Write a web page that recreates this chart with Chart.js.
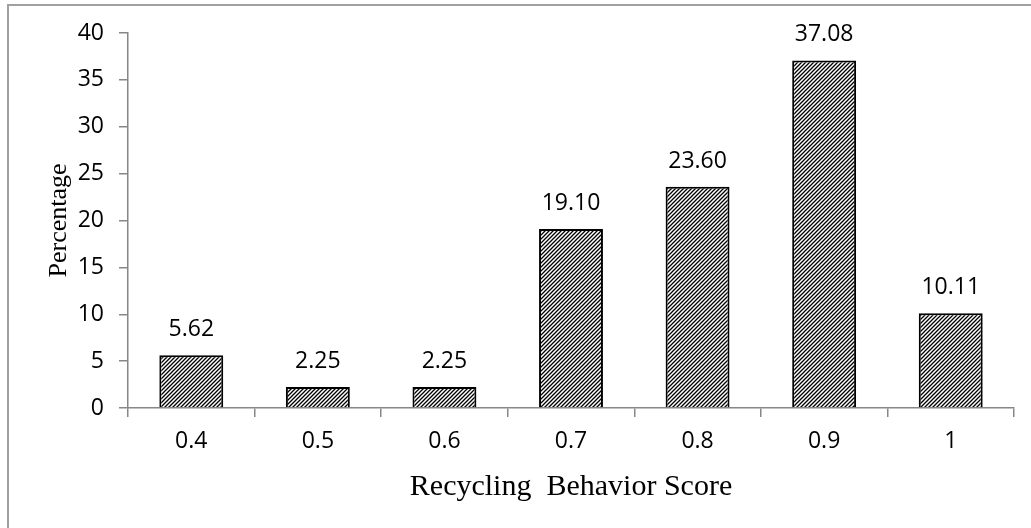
<!DOCTYPE html>
<html>
<head>
<meta charset="utf-8">
<script src="https://cdn.jsdelivr.net/npm/chart.js@4/dist/chart.umd.min.js"></script>
<style>
  html, body { margin: 0; padding: 0; background: #fff; }
  #wrap { position: relative; width: 1031px; height: 528px; }
</style>
</head>
<body>
<div id="wrap"><canvas id="chart" width="1031" height="528"></canvas></div>
<script>
// Share of respondents by recycling behavior score
const scores = ['0.4', '0.5', '0.6', '0.7', '0.8', '0.9', '1'];
const percentages = [5.62, 2.25, 2.25, 19.10, 23.60, 37.08, 10.11];
const yTicks = { min: 0, max: 40, step: 5 };

const AXIS_GRAY = '#878787';
const TICK_FONT = { family: '"Open Sans", "Liberation Sans", sans-serif', size: 23 };

// Diagonal "/" hatch fill for the bars
function makeHatch() {
  const c = document.createElement('canvas');
  c.width = 4; c.height = 4;
  const g = c.getContext('2d');
  g.fillStyle = '#ffffff';
  g.fillRect(0, 0, 4, 4);
  g.strokeStyle = '#000000';
  g.lineWidth = 1.3;
  g.beginPath();
  g.moveTo(0, 4); g.lineTo(4, 0);
  g.moveTo(-1, 1); g.lineTo(1, -1);
  g.moveTo(3, 5); g.lineTo(5, 3);
  g.stroke();
  return g.createPattern(c, 'repeat');
}

// Light frame along the top and left edges
const framePlugin = {
  id: 'frame',
  beforeDraw(chart) {
    const ctx = chart.ctx;
    ctx.save();
    ctx.strokeStyle = '#a0a0a0';
    ctx.lineWidth = 2;
    ctx.beginPath();
    ctx.moveTo(8, chart.height);
    ctx.lineTo(8, 5);
    ctx.lineTo(chart.width, 5);
    ctx.stroke();
    ctx.restore();
  }
};

// Value labels above each bar
const valueLabels = {
  id: 'valueLabels',
  afterDatasetsDraw(chart) {
    const ctx = chart.ctx;
    const meta = chart.getDatasetMeta(0);
    const data = chart.data.datasets[0].data;
    ctx.save();
    ctx.fillStyle = '#000';
    ctx.font = `${TICK_FONT.size}px ${TICK_FONT.family}`;
    ctx.textAlign = 'center';
    ctx.textBaseline = 'alphabetic';
    meta.data.forEach((bar, i) => {
      ctx.fillText(data[i].toFixed(2), bar.x, bar.y - 19);
    });
    ctx.restore();
  }
};

new Chart(document.getElementById('chart'), {
  type: 'bar',
  data: {
    labels: scores,
    datasets: [{
      data: percentages,
      backgroundColor: makeHatch(),
      borderColor: '#000',
      borderWidth: 2,
      borderSkipped: 'start',
      categoryPercentage: 1,
      barPercentage: 0.505
    }]
  },
  options: {
    responsive: false,
    devicePixelRatio: 1,
    animation: false,
    layout: { padding: { left: 8, top: 33, right: 17, bottom: 0 } },
    plugins: {
      legend: { display: false },
      tooltip: { enabled: false }
    },
    scales: {
      x: {
        grid: { drawOnChartArea: false, tickLength: 9, color: AXIS_GRAY, lineWidth: 1.5, offset: true },
        border: { color: AXIS_GRAY, width: 1.5 },
        ticks: { color: '#000', font: TICK_FONT, padding: 11, maxRotation: 0 },
        title: {
          display: true,
          text: 'Recycling  Behavior Score',
          color: '#000',
          font: { family: '"Liberation Serif", "Times New Roman", serif', size: 30 },
          padding: { top: 0, bottom: 23 }
        },
        afterFit(scale) { scale.height = 120; }
      },
      y: {
        min: yTicks.min,
        max: yTicks.max,
        grid: { drawOnChartArea: false, tickLength: 9, color: AXIS_GRAY, lineWidth: 1.5 },
        border: { color: AXIS_GRAY, width: 1.5 },
        ticks: { color: '#000', font: TICK_FONT, stepSize: yTicks.step, padding: 15 },
        title: {
          display: true,
          text: 'Percentage',
          color: '#000',
          font: { family: '"Liberation Serif", "Times New Roman", serif', size: 26 },
          padding: { top: 36, bottom: 0 }
        },
        afterFit(scale) { scale.width = 120; }
      }
    }
  },
  plugins: [framePlugin, valueLabels]
});
</script>
</body>
</html>
